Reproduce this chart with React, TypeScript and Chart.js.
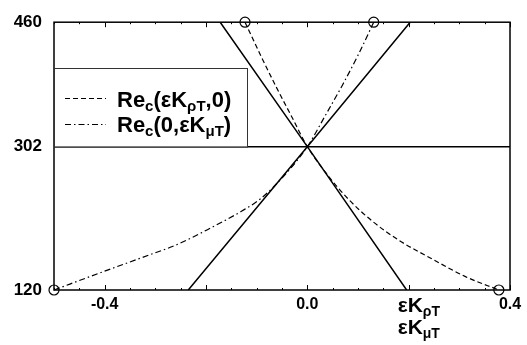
import React, { useEffect, useRef } from "react";
import { Chart, registerables } from "chart.js";
Chart.register(...registerables);

// ---- data ----
const solidAX = [-0.172, 0.0, 0.196];
const solidAY = [460, 302, 120];
const solidBX = [-0.235, 0.0, 0.203];
const solidBY = [120, 302, 460];
const dashedX = [-0.123, -0.09, -0.06, -0.03, 0.0, 0.04, 0.08, 0.129, 0.181, 0.246, 0.312, 0.378];
const dashedY = [460, 415, 376, 339, 302, 266, 236, 207, 183, 159.5, 137, 120];
const dashDotX = [-0.5, -0.404, -0.325, -0.256, -0.19, -0.13, -0.092, -0.046, 0.0, 0.035, 0.07, 0.1, 0.131];
const dashDotY = [120, 143, 161.5, 178, 199, 220, 236, 265, 302, 341, 381, 418, 460];
const refLineX = [-0.5, 0.4];
const refLineY = [302, 302];
const xTickValues = [-0.4, 0.0, 0.4];
const xTickLabels = ["-0.4", "0.0", "0.4"];
const yTickValues = [120, 302, 460];
const yTickLabels = ["120", "302", "460"];
const legendParts = [
  [{ t: "Re" }, { t: "c", sub: true }, { t: "(εK" }, { t: "ρT", sub: true }, { t: ",0)" }],
  [{ t: "Re" }, { t: "c", sub: true }, { t: "(0,εK" }, { t: "μT", sub: true }, { t: ")" }],
];
const titleParts = [
  [{ t: "εK" }, { t: "ρT", sub: true }],
  [{ t: "εK" }, { t: "μT", sub: true }],
];

const FAMILY = "'Liberation Sans', Arial, sans-serif";
const zip = (xs: number[], ys: number[]) => xs.map((x, i) => ({ x, y: ys[i] }));

function drawParts(ctx: CanvasRenderingContext2D, parts: any[], x: number, y: number, size: number, subSize: number, drop: number) {
  let cx = x;
  for (const p of parts) {
    ctx.font = `bold ${p.sub ? subSize : size}px ${FAMILY}`;
    ctx.fillText(p.t, cx, y + (p.sub ? drop : 0));
    cx += ctx.measureText(p.t).width;
  }
}

const framePlugin = {
  id: "frame",
  afterDraw(chart: any) {
    const ctx: CanvasRenderingContext2D = chart.ctx;
    const { left, right, top, bottom } = chart.chartArea;
    const xs = chart.scales.x;
    const ys = chart.scales.y;
    ctx.save();
    ctx.strokeStyle = "#000";
    ctx.fillStyle = "#000";
    ctx.lineWidth = 1.5;
    ctx.strokeRect(left, top, right - left, bottom - top);
    // inward tick marks
    ctx.lineWidth = 1;
    for (let v = -0.5; v <= 0.4001; v += 0.05) {
      const px = Math.round(xs.getPixelForValue(v)) + 0.5;
      const major = Math.abs(Math.round(v * 10) - v * 10) < 1e-6 && Math.round(v * 10) % 2 === 0;
      const len = major ? 5 : 2;
      ctx.beginPath();
      ctx.moveTo(px, bottom);
      ctx.lineTo(px, bottom - len);
      ctx.moveTo(px, top);
      ctx.lineTo(px, top + len);
      ctx.stroke();
    }
    // legend box
    const lx = left;
    const lr = left + 193;
    const lt = 68;
    const lb = ys.getPixelForValue(302);
    ctx.fillStyle = "#fff";
    ctx.fillRect(lx, lt, lr - lx, lb - lt);
    ctx.strokeStyle = "#333";
    ctx.lineWidth = 1;
    ctx.strokeRect(lx + 0.5, lt + 0.5, lr - lx, lb - lt);
    ctx.strokeStyle = "#000";
    ctx.lineWidth = 1.2;
    const rows = [98.5, 124.5];
    const dashes = [[5, 3], [6, 3, 1.5, 3]];
    rows.forEach((ry, i) => {
      ctx.setLineDash(dashes[i]);
      ctx.beginPath();
      ctx.moveTo(lx + 11, ry);
      ctx.lineTo(lx + 52, ry);
      ctx.stroke();
    });
    ctx.setLineDash([]);
    ctx.fillStyle = "#000";
    ctx.textBaseline = "alphabetic";
    ctx.textAlign = "left";
    drawParts(ctx, legendParts[0], lx + 63, 107, 22, 15, 4);
    drawParts(ctx, legendParts[1], lx + 63, 132, 22, 15, 4);
    // axis title
    const tx = xs.getPixelForValue(0.2) - 11;
    drawParts(ctx, titleParts[0], tx, 312, 21, 14, 4);
    drawParts(ctx, titleParts[1], tx, 334, 21, 14, 4);
    ctx.restore();
  },
};

export default function App() {
  const ref = useRef<HTMLCanvasElement>(null);
  useEffect(() => {
    document.body.style.margin = "0";
    const canvas = ref.current!;
    const endpointRadius = (ctx: any) => {
      const n = ctx.dataset.data.length;
      return ctx.dataIndex === 0 || ctx.dataIndex === n - 1 ? 5 : 0;
    };
    const chart = new Chart(canvas, {
      type: "line",
      data: {
        datasets: [
          { data: zip(refLineX, refLineY), borderColor: "#000", borderWidth: 1.5, pointRadius: 0, tension: 0 },
          { data: zip(solidAX, solidAY), borderColor: "#000", borderWidth: 1.5, pointRadius: 0, tension: 0 },
          { data: zip(solidBX, solidBY), borderColor: "#000", borderWidth: 1.5, pointRadius: 0, tension: 0 },
          {
            data: zip(dashedX, dashedY), borderColor: "#000", borderWidth: 1.2, borderDash: [5, 3],
            cubicInterpolationMode: "monotone", pointRadius: endpointRadius, pointStyle: "circle",
            pointBackgroundColor: "rgba(255,255,255,0)", pointBorderColor: "#000", pointBorderWidth: 1.2, clip: false,
          },
          {
            data: zip(dashDotX, dashDotY), borderColor: "#000", borderWidth: 1.2, borderDash: [6, 3, 1.5, 3],
            cubicInterpolationMode: "monotone", pointRadius: endpointRadius, pointStyle: "circle",
            pointBackgroundColor: "rgba(255,255,255,0)", pointBorderColor: "#000", pointBorderWidth: 1.2, clip: false,
          },
        ] as any,
      },
      options: {
        animation: false,
        responsive: false,
        devicePixelRatio: 1,
        layout: { padding: { top: 17, right: 17, left: 0, bottom: 0 } },
        plugins: { legend: { display: false }, tooltip: { enabled: false } },
        scales: {
          x: {
            type: "linear",
            min: -0.5,
            max: 0.4,
            grid: { display: false, drawTicks: false },
            border: { display: false },
            afterBuildTicks: (axis: any) => { axis.ticks = xTickValues.map((v) => ({ value: v })); },
            afterFit: (axis: any) => { axis.height = 55; },
            ticks: {
              padding: 5,
              color: "#000",
              maxRotation: 0,
              autoSkip: false,
              font: { family: FAMILY, size: 16, weight: "bold" },
              callback: (_v: any, i: number) => xTickLabels[i],
            },
          },
          y: {
            type: "linear",
            min: 120,
            max: 460,
            grid: { display: false, drawTicks: false },
            border: { display: false },
            afterBuildTicks: (axis: any) => { axis.ticks = yTickValues.map((v) => ({ value: v })); },
            afterFit: (axis: any) => { axis.width = 54; },
            ticks: {
              padding: 12,
              color: "#000",
              autoSkip: false,
              font: { family: FAMILY, size: 17, weight: "bold" },
              callback: (_v: any, i: number) => yTickLabels[i],
            },
          },
        },
      } as any,
      plugins: [framePlugin],
    });
    return () => chart.destroy();
  }, []);
  return <canvas ref={ref} width={527} height={345} style={{ display: "block" }} />;
}
